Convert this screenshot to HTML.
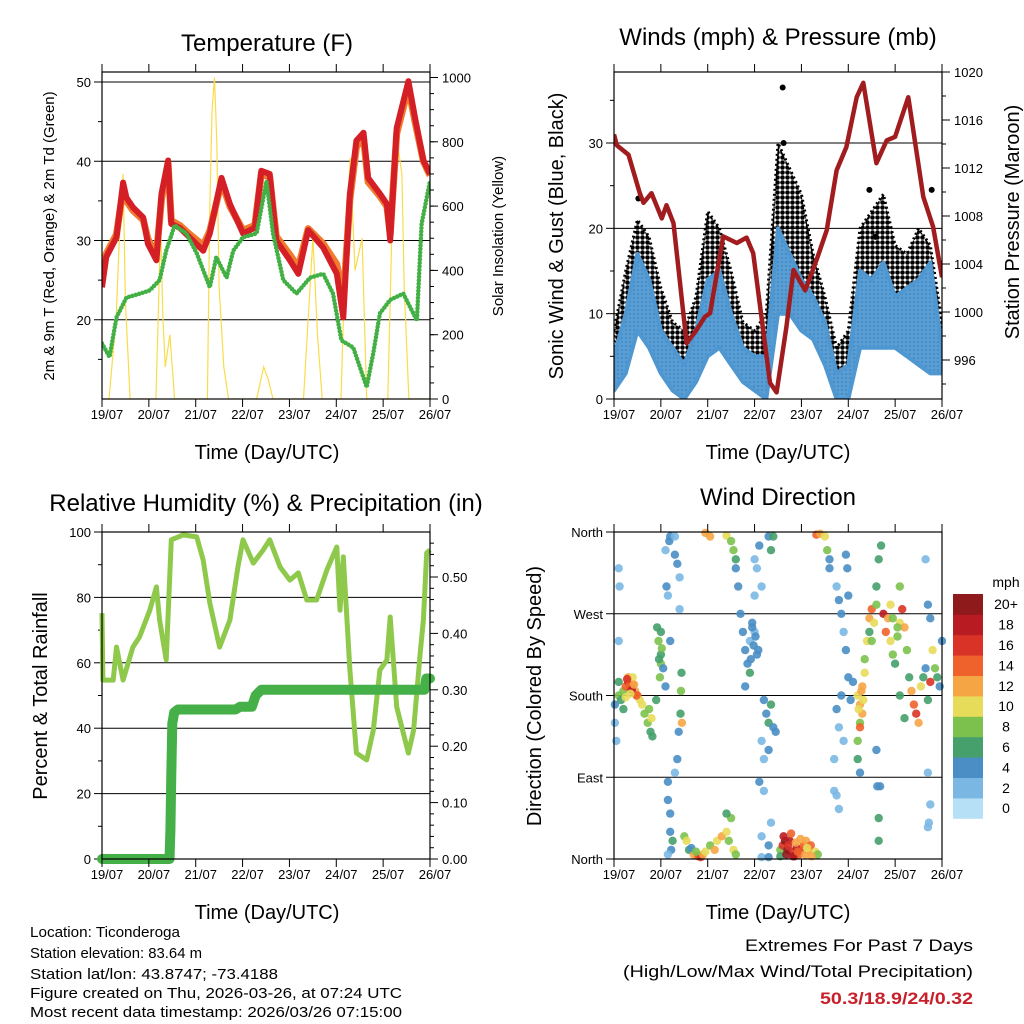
<!DOCTYPE html>
<html><head><meta charset="utf-8"><style>
html,body{margin:0;padding:0;background:#fff;}
svg{display:block;font-family:"Liberation Sans",Arial,sans-serif;}
</style></head><body>
<svg id="c" width="1024" height="1024" viewBox="0 0 1024 1024" xmlns="http://www.w3.org/2000/svg">
<defs>
<pattern id="dots" width="5" height="5" patternUnits="userSpaceOnUse"><circle cx="2.5" cy="2.5" r="2.3" fill="#000"/></pattern>
<pattern id="bdots" width="4" height="4" patternUnits="userSpaceOnUse"><rect width="4" height="4" fill="#5a9fd6"/><circle cx="2" cy="2" r="1.3" fill="#4a8ec8"/></pattern>
</defs>
</svg>
<script>
// ---------- DATA ----------
const dayLabels = ["19/07","20/07","21/07","22/07","23/07","24/07","25/07","26/07"];
const tempTimes = [0,0.09,0.31,0.45,0.52,0.66,0.88,0.98,1.16,1.27,1.41,1.48,1.66,1.87,2.16,2.3,2.55,2.73,3.01,3.26,3.4,3.58,3.72,4.01,4.19,4.4,4.72,5.01,5.15,5.29,5.43,5.58,5.68,5.93,6.08,6.15,6.29,6.54,6.68,6.86,7.0];
const temp2m = [24.1,27.9,30.4,37.3,35.4,34.2,32.9,29.6,27.5,35.9,40.1,32.1,31.6,30.4,28.7,30.9,37.9,34.6,30.9,31.6,38.8,38.4,30.0,27.5,25.8,31.3,29.1,25.8,20.3,35.9,42.6,43.6,37.9,35.9,34.6,30.0,44.2,50.1,45.5,40.1,38.4];
const temp9m = [24.8,28.3,30.8,36.5,35.0,33.8,32.6,30.2,28.2,35.2,39.6,32.5,31.9,30.8,29.4,31.2,37.4,34.3,31.3,31.9,38.4,38.0,30.5,28.2,26.6,31.5,29.6,27.0,22.5,35.2,41.8,43.0,37.4,35.6,34.3,30.8,43.5,49.3,45.0,40.0,38.2];
const dewTimes = [0,0.16,0.31,0.52,0.81,1.02,1.23,1.37,1.55,1.8,2.02,2.3,2.44,2.66,2.8,3.01,3.3,3.51,3.65,3.87,4.15,4.44,4.72,4.93,5.11,5.36,5.65,5.79,5.93,6.15,6.43,6.72,6.82,7.0];
const dewpoint = [17.0,15.3,20.3,22.8,23.3,23.7,25.0,28.7,31.9,30.9,28.4,24.1,27.9,25.3,28.7,30.4,30.9,37.5,30.9,25.0,23.3,25.3,25.8,23.3,17.4,16.5,11.5,15.8,20.8,22.5,23.3,19.9,32.1,37.5];
const solarTimes = [0,0.15,0.3,0.4,0.45,0.5,0.55,0.6,1.15,1.2,1.25,1.3,1.35,1.45,1.55,2.25,2.3,2.35,2.4,2.45,2.5,2.6,2.7,3.3,3.45,3.55,3.65,4.3,4.4,4.5,4.6,4.7,5.1,5.2,5.3,5.4,5.55,5.65,6.1,6.2,6.3,6.4,6.45,6.55,7.0];
const solarWatts = [0,0,250,600,700,300,150,0,0,250,550,250,100,200,0,0,600,900,1000,800,350,100,0,0,100,60,0,0,250,500,200,0,0,500,750,400,500,0,0,600,800,700,350,0,0];
const windTimes = [0,0.25,0.5,0.75,1.0,1.25,1.5,1.75,2.0,2.25,2.5,2.75,3.0,3.25,3.5,3.75,4.0,4.25,4.5,4.75,5.0,5.25,5.5,5.75,6.0,6.25,6.5,6.75,7.0];
const gustMax = [8,15,21,19,13,9,8,12,22,20,15,9,8,10,30,27,24,17,12,6,8,20,22,24,18,17,20,18,9];
const windMax = [5,10,17,14,8,6,4,8,14,15,10,6,5,5,20,17,14,12,9,3,4,15,14,16,12,13,14,16,6];
const windMin = [1,3,8,6,3,1,0,2,5,6,4,2,1,0,10,10,8,7,4,0,0,6,6,6,6,5,4,3,3];
const gustOutlierT = [3.6,3.62,5.45,5.58,6.78,0.52];
const gustOutlierV = [36.5,30,24.5,19,24.5,23.5];
const pressTimes = [0,0.06,0.31,0.55,0.63,0.8,1.02,1.12,1.27,1.55,1.76,1.94,2.05,2.33,2.62,2.83,2.97,3.33,3.47,3.68,3.83,4.08,4.32,4.54,4.75,4.96,5.18,5.32,5.6,5.82,6.0,6.28,6.6,6.81,7.0];
const pressure = [1014.8,1013.9,1013.1,1009.9,1009.1,1009.9,1007.8,1008.9,1007.4,997.4,998.5,999.6,999.9,1006.3,1005.75,1006.2,1004.9,994.1,993.3,998.75,1003.5,1001.8,1004.3,1006.8,1011.8,1013.75,1017.9,1019.1,1012.4,1014.3,1014.6,1017.9,1009.6,1007.1,1002.9];
const rhTimes = [0,0.02,0.24,0.31,0.45,0.66,0.8,1.02,1.16,1.23,1.37,1.48,1.73,2.02,2.16,2.3,2.51,2.73,2.9,3.01,3.23,3.44,3.58,3.8,4.01,4.19,4.37,4.58,4.8,5.01,5.08,5.15,5.29,5.43,5.65,5.79,5.93,6.08,6.15,6.29,6.54,6.65,6.79,6.86,6.93,7.0];
const rhValues = [75.2,54.7,54.7,64.8,54.7,64.8,67.9,76.1,83.2,73.1,60.9,97.6,99.1,98.5,91.4,78.3,64.8,73.1,89.3,97.6,90.5,94.5,97.6,89.3,85.3,87.5,79.2,79.2,88.4,95.4,76.1,92.4,57.8,32.4,30.3,39.4,57.8,60.9,74.0,46.5,32.4,39.4,63.0,73.1,93.6,94.5];
const rainTimes = [0,1.44,1.46,1.48,1.5,1.54,1.62,2.85,2.95,3.2,3.28,3.4,6.88,6.92,7.0];
const rainTotals = [0,0,0.05,0.15,0.24,0.26,0.265,0.265,0.27,0.27,0.29,0.30,0.30,0.32,0.32];
const dirTimes = [0.02,0.02,0.05,0.1,0.1,0.15,0.2,0.25,0.3,0.35,0.4,0.45,0.5,0.55,0.6,0.3,0.4,0.25,0.2,0.65,0.72,0.78,0.82,0.75,0.8,0.1,0.1,0.12,
0.92,0.95,1.0,1.0,0.98,1.05,1.1,0.9,1.12,1.15,1.2,1.1,1.18,1.2,1.3,1.35,1.3,1.4,1.4,1.44,1.43,1.42,1.45,1.38,1.35,1.3,1.15,1.15,1.2,1.2,1.22,1.15,1.25,
1.5,1.55,1.6,1.7,1.8,1.85,1.9,1.95,2.05,2.15,2.2,2.3,2.4,2.45,2.5,2.4,2.55,2.6,1.65,1.75,
1.95,2.05,2.4,2.5,2.55,2.6,2.6,2.65,
2.7,2.75,2.8,2.85,2.9,2.95,3.0,3.05,2.9,2.8,3.0,3.05,3.0,3.15,3.1,3.3,3.35,3.4,3.2,3.25,3.3,3.35,3.4,3.45,3.3,3.15,3.2,3.1,3.2,3.35,3.15,3.3,3.15,3.3,
3.55,3.6,3.65,3.7,3.75,3.8,3.85,3.9,3.95,4.0,4.05,4.1,4.15,4.2,4.3,4.35,3.55,
4.32,4.4,4.5,4.55,4.6,4.6,
4.75,4.8,4.85,4.9,4.95,5.0,4.85,4.75,4.8,4.9,4.7,4.75,4.8,5.05,5.1,4.95,4.98,5.0,4.7,
5.2,5.25,5.3,5.35,5.25,5.2,5.2,5.25,5.3,5.35,5.4,5.45,5.5,5.55,5.6,5.6,5.65,5.7,5.5,5.45,5.6,5.62,5.65,5.65,5.25,
5.75,5.8,5.85,5.9,5.95,6.0,6.05,6.1,6.15,6.2,6.25,6.3,6.35,6.4,6.45,6.5,6.55,6.6,6.65,6.7,6.75,6.8,6.85,6.9,6.95,7.0,6.2,6.1,6.65,6.7,6.75,6.7,6.75,6.72,6.7,5.68,6.1,
0.28,0.33,0.38,0.43,0.48,0.35,3.62,3.68,3.72,3.78,3.82,3.88,3.92,3.98,4.08,4.12,4.22,2.95,2.98,3.02,2.92,3.08,1.0,1.02,0.96,5.28,5.32,5.22,5.9,5.95,6.05];
const dirDegrees = [170,150,130,195,180,175,185,190,195,188,192,185,180,175,170,200,200,178,165,160,150,140,135,165,155,240,320,300,
255,240,215,225,200,210,190,175,300,290,240,340,350,355,335,325,355,310,275,205,185,160,150,140,110,95,85,65,50,30,10,5,20,
25,20,10,5,3,2,5,8,15,10,20,25,30,20,45,50,10,5,12,8,
359,355,356,350,340,330,320,300,
270,250,230,215,240,260,250,225,205,190,290,320,330,300,345,355,340,355,175,160,150,170,145,140,120,130,110,85,75,40,25,15,2,2,
10,15,20,10,20,8,3,12,5,10,15,20,10,15,8,5,3,
357,358,355,340,330,320,
300,285,270,250,230,200,180,165,145,130,110,70,55,175,195,335,320,290,75,
180,170,190,205,150,130,110,145,160,220,240,265,275,260,280,300,330,345,240,250,120,80,45,20,95,
270,250,265,240,225,215,245,260,275,255,230,200,185,170,160,150,190,200,210,175,195,230,210,200,190,240,155,180,330,280,265,95,60,40,35,80,300,
198,190,186,192,180,182,25,5,15,28,3,18,8,22,5,12,3,255,235,245,220,230,250,232,220,185,175,165,280,265,255];
const dirSpeeds = [4,2,2,6,8,6,8,14,16,16,14,12,14,10,10,12,10,10,6,8,8,6,6,8,10,2,2,2,
6,8,8,6,8,4,4,6,4,2,4,2,4,4,4,4,2,2,2,6,8,6,12,4,4,2,4,4,4,4,4,2,6,
8,10,6,12,14,16,12,10,8,12,10,12,10,8,8,6,10,8,4,8,
12,12,10,8,8,6,4,4,
4,4,4,4,2,4,2,4,6,4,2,2,2,2,4,4,6,6,4,4,6,6,4,4,4,2,2,4,2,2,2,4,2,4,
8,16,20,20,18,16,20,18,14,16,14,12,12,14,10,8,6,
14,12,10,8,4,4,
2,4,4,2,4,4,4,4,2,2,2,2,2,4,4,4,4,4,2,
10,12,12,10,8,8,6,14,12,8,10,12,14,10,8,6,6,6,8,6,4,4,6,6,4,
18,14,12,10,8,6,8,10,16,12,8,6,12,14,16,12,10,6,4,6,16,10,8,6,4,4,6,6,2,4,4,2,2,2,2,4,8,
16,14,18,12,14,10,18,20,16,14,18,12,14,12,12,10,12,4,4,4,4,4,6,8,6,12,10,10,10,8,8];
const speedColors = ["#b5e0f6","#7ab8e3","#4a8ec5","#46a06c","#7cc14e","#e7dc5a","#f6a545","#f0622b","#d93327","#b81c22","#8e1a1b"];
const speedLabels = ["0","2","4","6","8","10","12","14","16","18","20+"];

// ---------- HELPERS ----------
const NS="http://www.w3.org/2000/svg";
const svg=document.getElementById('c');
function mk(tag,attrs,parent){const e=document.createElementNS(NS,tag);for(const k in attrs)e.setAttribute(k,attrs[k]);(parent||svg).appendChild(e);return e;}
function txt(str,x,y,size,anchor,parent,extra){const e=mk('text',{x:x,y:y,'font-size':size,'text-anchor':anchor||'middle',fill:'#000'},parent);if(extra)for(const k in extra)e.setAttribute(k,extra[k]);e.textContent=str;return e;}
function linScale(d0,d1,r0,r1){return v=>r0+(v-d0)*(r1-r0)/(d1-d0);}
function frame(g,L,T,R,B,xs){
  const r=mk('rect',{x:L,y:T,width:R-L,height:B-T,fill:'none',stroke:'#000','stroke-width':1.2},g);
  
  for(let i=0;i<dayLabels.length;i++){
    const x=xs(i);
    mk('line',{x1:x,y1:B,x2:x,y2:B+8,stroke:'#000','stroke-width':1},g);
    mk('line',{x1:x,y1:T,x2:x,y2:T-8,stroke:'#000','stroke-width':1},g);
    const l=txt(dayLabels[i],x+5,B+20,13,'middle',g);
    
  }
}
function leftAxis(g,L,R,ys,ticks,labels,grid,minor){
  ticks.forEach((v,i)=>{const y=ys(v);
    mk('line',{x1:L-8,y1:y,x2:L,y2:y,stroke:'#000','stroke-width':1},g);
    if(grid)mk('line',{x1:L,y1:y,x2:R,y2:y,stroke:'#000','stroke-width':1},g);
    const l=txt(labels[i],L-11,y+5,13,'end',g);});
  (minor||[]).forEach(v=>{const y=ys(v);mk('line',{x1:L-4,y1:y,x2:L,y2:y,stroke:'#000','stroke-width':1},g);});
}
function rightAxis(g,R,ys,ticks,labels,minor){
  ticks.forEach((v,i)=>{const y=ys(v);
    mk('line',{x1:R,y1:y,x2:R+8,y2:y,stroke:'#000','stroke-width':1},g);
    const l=txt(labels[i],R+12,y+5,13,'start',g);});
  (minor||[]).forEach(v=>{const y=ys(v);mk('line',{x1:R,y1:y,x2:R+4,y2:y,stroke:'#000','stroke-width':1},g);});
}
function pathFrom(ts,vs,xs,ys){return ts.map((t,i)=>(i?'L':'M')+xs(t).toFixed(1)+','+ys(vs[i]).toFixed(1)).join(' ');}
function bandPath(ts,hi,lo,xs,ys){return pathFrom(ts,hi,xs,ys)+' '+ts.slice().reverse().map((t,i)=>'L'+xs(t).toFixed(1)+','+ys(lo[ts.length-1-i]).toFixed(1)).join(' ')+'Z';}
function range(a,b,s){const r=[];for(let v=a;v<=b+1e-9;v+=s)r.push(+v.toFixed(4));return r;}

// ---------- PANEL 1 ----------
(function(){
  const L=102,R=430,T=72,B=399;
  const g=mk('g',{});
  const xs=linScale(0,7,L,R), ys=linScale(10,50,399,82), ysol=linScale(0,1000,399,77.5);
  const cpx=mk('clipPath',{id:'cp1'},g);mk('rect',{x:L,y:T,width:R-L,height:B-T},cpx);
  leftAxis(g,L,R,ys,[20,30,40,50],["20","30","40","50"],true,[15,25,35,45]);
  rightAxis(g,R,ysol,[0,200,400,600,800,1000],["0","200","400","600","800","1000"],range(50,950,50));
  const d=mk('g',{'clip-path':'url(#cp1)'},g);
  const s=mk('path',{d:pathFrom(solarTimes,solarWatts,xs,ysol),fill:'none',stroke:'#f9dc4a','stroke-width':1.2},d);
  
  const o=mk('path',{d:pathFrom(tempTimes,temp9m,xs,ys),fill:'none',stroke:'#f07b2e','stroke-width':7,'stroke-linejoin':'round'},d);
  
  const r=mk('path',{d:pathFrom(tempTimes,temp2m,xs,ys),fill:'none',stroke:'#d41f26','stroke-width':6,'stroke-linejoin':'round'},d);
  
  const gr=mk('path',{d:pathFrom(dewTimes,dewpoint,xs,ys),fill:'none',stroke:'#43b045','stroke-width':4.5,'stroke-linecap':'round','stroke-dasharray':'0 3.5'},d);
  
  frame(g,L,T,R,B,i=>xs(i));
  const t=txt('Temperature (F)',267,51,24,'middle',g);
  const xt=txt('Time (Day/UTC)',267,459,20,'middle',g);
  const yt=txt('2m & 9m T (Red, Orange) & 2m Td (Green)',0,0,15,'middle',g,{transform:'translate(54,236) rotate(-90)'});
  const yr=txt('Solar Insolation (Yellow)',0,0,15,'middle',g,{transform:'translate(503,236) rotate(-90)'});
})();

// ---------- PANEL 2 ----------
(function(){
  const L=614,R=942,T=72,B=399;
  const g=mk('g',{});
  const xs=linScale(0,7,L,R), ys=linScale(0,30,399,143), yp=linScale(996,1020,360,72);
  const cpx=mk('clipPath',{id:'cp2'},g);mk('rect',{x:L,y:T,width:R-L,height:B-T},cpx);
  leftAxis(g,L,R,ys,[0,10,20,30],["0","10","20","30"],true,[5,15,25,35]);
  rightAxis(g,R,yp,[996,1000,1004,1008,1012,1016,1020],["996","1000","1004","1008","1012","1016","1020"],range(994,1020,2));
  const d=mk('g',{'clip-path':'url(#cp2)'},g);
  const gp=mk('path',{d:bandPath(windTimes,gustMax,windMin,xs,ys),fill:'url(#dots)',stroke:'#000','stroke-width':3,'stroke-dasharray':'2 3','stroke-linejoin':'round'},d);
  
  const wp=mk('path',{d:bandPath(windTimes,windMax,windMin,xs,ys),fill:'url(#bdots)',stroke:'#4f97d1','stroke-width':4,'stroke-linejoin':'round'},d);
  
  gustOutlierT.forEach((t,i)=>{const c=mk('circle',{cx:xs(t),cy:ys(gustOutlierV[i]),r:3,fill:'#000'},d);
    });
  const p=mk('path',{d:pathFrom(pressTimes,pressure,xs,yp),fill:'none',stroke:'#a11c1f','stroke-width':4.5,'stroke-linejoin':'round'},d);
  
  frame(g,L,T,R,B,i=>xs(i));
  const t=txt('Winds (mph) & Pressure (mb)',778,45,24,'middle',g);
  const xt=txt('Time (Day/UTC)',778,459,20,'middle',g);
  const yt=txt('Sonic Wind & Gust (Blue, Black)',0,0,20,'middle',g,{transform:'translate(563,236) rotate(-90)'});
  const yr=txt('Station Pressure (Maroon)',0,0,20,'middle',g,{transform:'translate(1019,222) rotate(-90)'});
})();

// ---------- PANEL 3 ----------
(function(){
  const L=102,R=430,T=532,B=859;
  const g=mk('g',{});
  const xs=linScale(0,7,L,R), ys=linScale(0,100,859,532), yr=linScale(0,0.5,859,577);
  leftAxis(g,L,R,ys,[0,20,40,60,80,100],["0","20","40","60","80","100"],true,[10,30,50,70,90]);
  rightAxis(g,R,yr,[0,0.1,0.2,0.3,0.4,0.5],["0.00","0.10","0.20","0.30","0.40","0.50"],range(0.02,0.56,0.02).filter(v=>Math.abs(v*10-Math.round(v*10))>0.01));
  const cpx=mk('clipPath',{id:'cp3'},g);mk('rect',{x:L-6,y:T,width:R-L+12,height:B-T+6},cpx);
  const d=mk('g',{'clip-path':'url(#cp3)'},g);
  const h=mk('path',{d:pathFrom(rhTimes,rhValues,xs,ys),fill:'none',stroke:'#8fc94c','stroke-width':5,'stroke-linejoin':'round'},d);
  
  const pr=mk('path',{d:pathFrom(rainTimes,rainTotals,xs,yr),fill:'none',stroke:'#45b048','stroke-width':10,'stroke-linejoin':'round','stroke-linecap':'round'},d);
  
  frame(g,L,T,R,B,i=>xs(i));
  const t=txt('Relative Humidity (%) & Precipitation (in)',266,511,24,'middle',g);
  const xt=txt('Time (Day/UTC)',267,919,20,'middle',g);
  const yt=txt('Percent & Total Rainfall',0,0,20,'middle',g,{transform:'translate(47,696) rotate(-90)'});
})();

// ---------- PANEL 4 ----------
(function(){
  const L=614,R=942,T=532,B=859;
  const g=mk('g',{});
  const xs=linScale(0,7,L,R), ys=linScale(0,360,859,532);
  leftAxis(g,L,R,ys,[0,90,180,270,360],["North","East","South","West","North"],true,[]);
  const cpx=mk('clipPath',{id:'cp4'},g);mk('rect',{x:L-4,y:T-4,width:R-L+8,height:B-T+8},cpx);
  const d=mk('g',{'clip-path':'url(#cp4)'},g);
  dirTimes.forEach((t,i)=>{
    const idx=Math.min(10,Math.max(0,Math.round(dirSpeeds[i]/2)));
    const c=mk('circle',{cx:xs(t).toFixed(1),cy:ys(dirDegrees[i]).toFixed(1),r:4.2,fill:speedColors[idx],'fill-opacity':0.9},d);
    
    
  });
  frame(g,L,T,R,B,i=>xs(i));
  const t=txt('Wind Direction',778,505,24,'middle',g);
  const xt=txt('Time (Day/UTC)',778,919,20,'middle',g);
  const yt=txt('Direction (Colored By Speed)',0,0,20,'middle',g,{transform:'translate(541,696) rotate(-90)'});
  const cb=mk('g',{},g);
  const cbTop=594,cell=20.4;
  for(let i=0;i<speedColors.length;i++){
    const y=cbTop+(speedColors.length-1-i)*cell;
    const rc=mk('rect',{x:953,y:y,width:30,height:cell+0.4,fill:speedColors[i]},cb);
    
    const l=txt(speedLabels[i],1006,y+cell/2+5,14,'middle',cb);
  }
  const u=txt('mph',1006,587,14,'middle',cb);
})();

// ---------- FOOTER ----------
(function(){
  const g=mk('g',{});
  const lines=["Location: Ticonderoga","Station elevation: 83.64 m","Station lat/lon: 43.8747; -73.4188","Figure created on Thu, 2026-03-26, at 07:24 UTC","Most recent data timestamp: 2026/03/26 07:15:00"];
  const widths=[150,172,248,372,372];
  const ys=[937,958,979,998,1017];
  lines.forEach((s,i)=>{const e=txt(s,30,ys[i],15,'start',g,{textLength:widths[i],lengthAdjust:'spacingAndGlyphs'});});
  const g2=mk('g',{});
  const a=txt('Extremes For Past 7 Days',973,951,17,'end',g2,{textLength:228,lengthAdjust:'spacingAndGlyphs'});
  const b=txt('(High/Low/Max Wind/Total Precipitation)',973,977,17,'end',g2,{textLength:350,lengthAdjust:'spacingAndGlyphs'});
  const c=txt('50.3/18.9/24/0.32',973,1004,17,'end',g2,{'font-weight':'bold',fill:'#c8202a',textLength:153,lengthAdjust:'spacingAndGlyphs'});
})();
</script>
</body></html>
